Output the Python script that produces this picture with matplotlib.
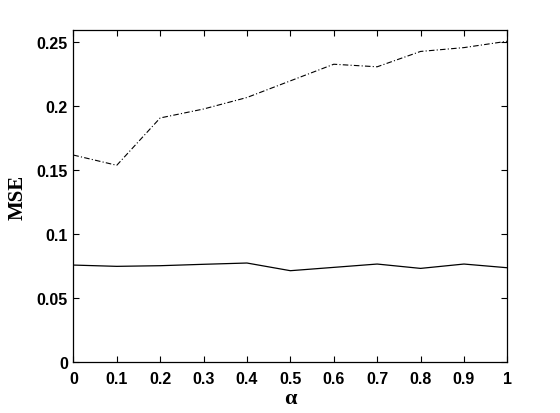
import matplotlib
matplotlib.use("Agg")
import matplotlib.pyplot as plt

alpha = [0.0, 0.1, 0.2, 0.3, 0.4, 0.5, 0.6, 0.7, 0.8, 0.9, 1.0]
mse_dashdot = [0.162, 0.154, 0.191, 0.198, 0.207, 0.220, 0.233, 0.231, 0.243, 0.246, 0.251]
mse_solid = [0.076, 0.075, 0.0755, 0.0766, 0.0776, 0.0716, 0.0742, 0.0768, 0.0734, 0.0768, 0.0739]
xticks = [0, 0.1, 0.2, 0.3, 0.4, 0.5, 0.6, 0.7, 0.8, 0.9, 1]
xticklabels = ["0", "0.1", "0.2", "0.3", "0.4", "0.5", "0.6", "0.7", "0.8", "0.9", "1"]
yticks = [0, 0.05, 0.1, 0.15, 0.2, 0.25]
yticklabels = ["0", "0.05", "0.1", "0.15", "0.2", "0.25"]

fig = plt.figure(figsize=(5.6, 4.14), dpi=100)
ax = fig.add_axes([0.131, 0.1225, 0.775, 0.8015])

ax.plot(alpha, mse_dashdot, color="black", lw=0.8, linestyle=(0, (5, 2, 1, 2)))
ax.plot(alpha, mse_solid, color="black", lw=0.9, linestyle="-")

ax.set_xlim(0, 1)
ax.set_ylim(0, 0.2594)
ax.set_xticks(xticks)
ax.set_xticklabels(xticklabels)
ax.set_yticks(yticks)
ax.set_yticklabels(yticklabels)

for lab in ax.get_xticklabels() + ax.get_yticklabels():
    lab.set_fontfamily("Liberation Sans")
    lab.set_fontweight("bold")
    lab.set_fontsize(11.5)

ax.tick_params(direction="in", length=4, width=0.8, top=True, right=True, colors="black")
ax.tick_params(axis="x", pad=6)
ax.tick_params(axis="y", pad=4)
for s in ax.spines.values():
    s.set_linewidth(0.9)
    s.set_color("black")

ax.set_ylabel("MSE", fontfamily="Liberation Serif", fontweight="bold", fontsize=15, labelpad=6)
ax.set_xlabel("α", fontfamily="Liberation Serif", fontweight="bold", fontsize=16, labelpad=2)

fig.savefig("out.png", dpi=100)
